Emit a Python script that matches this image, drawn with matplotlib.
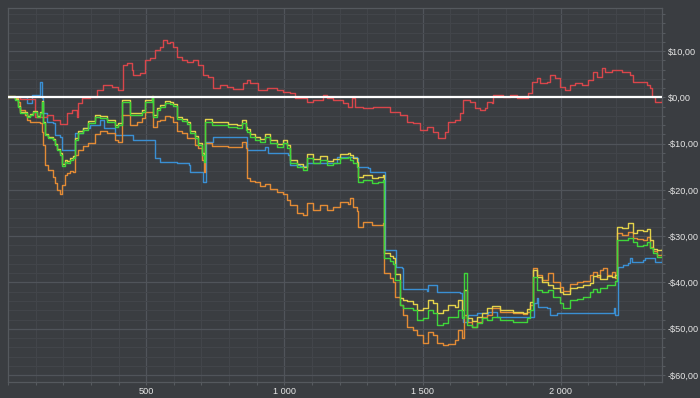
import matplotlib
matplotlib.use("Agg")
import matplotlib.pyplot as plt
from matplotlib.ticker import MultipleLocator, FixedLocator, FuncFormatter

# ---- data ----
red_x = [0, 44, 98, 142, 163, 189, 214, 232, 250, 254, 268, 297, 323, 344, 377, 399, 417, 431, 449, 453,
         478, 496, 514, 532, 550, 562, 576, 587, 597, 612, 630, 648, 670, 688, 706, 724, 742, 768, 793, 815,
         851, 865, 876, 905, 937, 974, 995, 1021, 1039, 1082, 1104, 1140, 1155, 1176, 1212, 1230, 1245, 1256,
         1285, 1321, 1353, 1382, 1418, 1444, 1466, 1491, 1516, 1538, 1556, 1581, 1592, 1617, 1636, 1646, 1654,
         1672, 1690, 1708, 1726, 1733, 1751, 1755, 1791, 1816, 1842, 1871, 1882, 1896, 1914, 1925, 1950, 1961,
         1979, 1997, 2015, 2033, 2052, 2077, 2099, 2117, 2131, 2149, 2160, 2185, 2221, 2250, 2261, 2294, 2312,
         2323, 2330, 2341, 2352, 2366]
red_y = [0, -0.4, -4.3, -3.8, -4.9, -5.8, -3.4, -2.7, -4.3, -1.2, -0.2, 0.1, 1.6, 2.7, 2.2, 1.6, 7.0, 7.4, 5.9, 4.8,
         5.2, 8.1, 8.5, 10.2, 10.9, 12.4, 11.7, 11.9, 10.9, 8.7, 8.1, 7.6, 8.1, 7.0, 4.8, 4.4, 2.0, 2.7, 2.2, 1.8,
         3.1, 3.7, 3.1, 1.6, 2.0, 1.6, 1.1, 0.9, -0.2, -1.0, -0.6, 0.5, -0.2, -0.6, -1.2, -2.1, -0.2, -2.1,
         -2.3, -2.1, -2.1, -3.2, -3.8, -5.3, -5.6, -7.1, -6.4, -7.5, -8.8, -7.5, -5.3, -4.9, -3.4, -0.6, -0.6,
         -1.0, -2.3, -2.7, -2.3, -1.0, -1.2, 0.5, 0.1, 0.5, -0.2, -0.2, 0.9, 3.3, 4.2, 3.1, 3.3, 4.8,
         4.2, 2.2, 1.6, 2.7, 3.1, 2.7, 3.7, 5.5, 4.4, 6.3, 5.5, 5.9, 5.5, 4.8, 3.3, 3.3, 2.7,
         2.0, 0.1, -1.0, -1.0, -0.6]

blue_x = [0, 69, 69, 88, 88, 109, 116, 124, 127, 142, 163, 171, 189, 196, 236, 243, 272, 297, 333, 348,
          381, 388, 449, 453, 525, 532, 550, 605, 612, 655, 659, 702, 706, 713, 717, 742, 865, 865, 923, 930,
          941, 1013, 1021, 1057, 1082, 1176, 1191, 1245, 1263, 1267, 1303, 1310, 1361, 1364, 1400, 1404, 1426,
          1429, 1480, 1516, 1520, 1545, 1552, 1636, 1643, 1646, 1661, 1665, 1697, 1733, 1737, 1755, 1769, 1889,
          1903, 1914, 1918, 1950, 1961, 1986, 2189, 2192, 2196, 2203, 2207, 2225, 2243, 2250, 2257, 2297,
          2305, 2334, 2341, 2366]
blue_y = [0, 0.1, -1.2, -1.2, 0.5, 0.5, 3.3, -0.2, -3.4, -5.3, -5.6, -8.1, -8.6, -11.4, -11.4, -7.6, -6.6, -6.0, -4.9, -6.6,
          -6.6, -8.1, -8.1, -9.2, -9.2, -13.1, -14.0, -14.0, -14.2, -14.6, -16.1, -16.1, -18.3, -18.3, -9.7, -8.6, -8.6, -11.4, -11.4, -10.7,
          -12.0, -12.5, -14.6, -14.8, -14.2, -14.2, -12.9, -12.9, -13.1, -15.1, -15.3, -16.1, -16.1, -33.0, -33.0, -36.7, -36.9,
          -41.3, -41.4, -41.8, -40.5, -40.5, -42.0, -42.2, -47.4, -48.5, -48.5, -47.0, -46.6, -47.0, -46.4, -46.4, -47.4, -47.4,
          -44.4, -43.3, -45.3, -45.5, -47.0, -46.6, -46.6, -45.5, -47.0, -47.0, -36.7, -36.2, -35.8, -34.7, -35.6, -35.2,
          -34.7, -34.7, -35.6, -35.2]

# shared sampling positions for the green, yellow and orange runs
gyo_x = [0, 26, 37, 44, 62, 69, 80, 91, 106, 116, 124, 127, 135, 145, 163, 171, 178, 189, 196, 207,
         214, 225, 236, 243, 254, 272, 290, 315, 333, 358, 387, 399, 413, 435, 442, 467, 485, 496, 522, 525,
         540, 550, 569, 587, 597, 612, 630, 648, 659, 677, 688, 702, 710, 713, 739, 775, 797, 829, 847, 862,
         865, 876, 894, 912, 930, 948, 974, 995, 1010, 1021, 1046, 1068, 1082, 1104, 1129, 1155, 1176, 1201, 1230, 1238,
         1248, 1263, 1267, 1285, 1317, 1339, 1357, 1361, 1383, 1393, 1400, 1418, 1429, 1444, 1466, 1480, 1502, 1520, 1538, 1552,
         1574, 1592, 1617, 1628, 1643, 1650, 1661, 1679, 1697, 1715, 1733, 1751, 1780, 1827, 1863, 1878, 1889, 1900, 1914, 1932,
         1954, 1972, 1997, 2008, 2033, 2059, 2081, 2106, 2117, 2131, 2142, 2153, 2167, 2185, 2196, 2203, 2221, 2243, 2261, 2275,
         2297, 2312, 2323, 2334, 2348, 2366]
green_y = [0.1, -0.6, -2.1, -3.4, -3.4, -4.3, -3.8, -3.2, -4.3, -3.4, -1.0, -5.6, -8.1, -8.8, -9.2, -10.3, -11.4, -12.5, -14.8, -14.0,
           -14.2, -13.5, -13.1, -9.2, -7.7, -7.1, -5.6, -4.3, -4.5, -5.3, -6.4, -6.0, -1.0, -1.0, -3.8, -3.8, -3.2, -1.0, -0.2, -4.3,
           -2.7, -2.1, -1.2, -1.4, -1.9, -4.7, -5.1, -5.8, -7.7, -8.8, -10.3, -12.5, -14.0, -5.3, -6.0, -6.0, -6.4, -6.6, -5.6, -7.1,
           -7.5, -8.6, -9.2, -9.7, -8.6, -9.9, -10.7, -9.9, -11.0, -14.2, -15.1, -15.7, -13.1, -14.2, -13.5, -14.6, -14.2, -13.1, -12.9, -13.5,
           -14.2, -15.1, -18.3, -17.9, -18.5, -18.3, -17.9, -34.7, -35.4, -36.0, -39.5, -44.9, -45.5, -45.5, -45.9, -48.1, -47.7, -45.9, -46.6, -49.2,
           -48.8, -47.5, -47.5, -45.9, -47.7, -38.0, -49.2, -49.6, -48.8, -47.7, -48.1, -47.5, -48.1, -48.5, -48.5, -47.7, -45.9, -38.8, -41.6, -42.1,
           -41.6, -43.1, -44.4, -45.5, -43.8, -43.6, -43.1, -42.1, -41.4, -42.1, -41.2, -41.2, -40.5, -40.5, -39.7, -30.8, -30.8, -30.4, -31.3, -32.1,
           -31.9, -31.3, -32.6, -33.6, -34.5, -33.8]
yellow_y = [0.3, -0.4, -1.9, -3.2, -3.2, -4.0, -3.6, -3.0, -4.0, -3.2, -0.8, -5.3, -7.9, -8.6, -9.0, -10.1, -11.2, -12.0, -14.4, -13.5,
            -13.8, -13.1, -12.7, -8.8, -7.3, -6.6, -5.1, -3.8, -4.0, -4.9, -6.0, -5.6, -0.6, -0.6, -3.4, -3.4, -2.7, -0.6, 0.3, -3.8,
            -2.3, -1.7, -0.8, -1.0, -1.4, -4.3, -4.7, -5.3, -7.3, -8.4, -9.9, -12.0, -13.5, -4.7, -5.3, -5.3, -5.8, -6.0, -4.9, -6.4,
            -6.9, -7.9, -8.6, -9.0, -7.9, -9.2, -10.1, -9.2, -10.3, -13.5, -14.4, -15.1, -12.2, -13.3, -12.7, -13.8, -13.3, -12.2, -12.0, -12.5,
            -13.1, -14.0, -17.2, -16.8, -17.4, -17.2, -16.8, -33.6, -34.3, -34.7, -38.2, -43.4, -43.8, -44.0, -44.6, -45.9, -45.5, -43.8, -44.4, -46.6,
            -45.9, -44.9, -45.3, -43.8, -45.9, -41.6, -47.7, -48.3, -47.5, -46.6, -45.5, -45.1, -45.9, -46.4, -46.6, -45.7, -44.2, -37.3, -38.8, -39.9,
            -40.5, -41.2, -42.1, -42.5, -41.2, -41.0, -40.5, -40.1, -38.6, -38.4, -39.2, -39.2, -38.6, -38.8, -38.4, -28.0, -28.2, -27.2, -29.3, -28.7,
            -28.9, -28.5, -30.8, -32.8, -33.0, -32.8]
orange_y = [0.1, -0.2, -1.0, -2.7, -3.8, -4.9, -5.3, -5.3, -5.3, -5.6, -7.5, -10.3, -14.6, -15.7, -17.2, -18.5, -20.0, -20.9, -18.9, -16.8,
            -16.4, -15.9, -16.1, -12.5, -11.4, -10.5, -9.9, -7.9, -7.3, -7.7, -9.2, -9.7, -3.8, -3.8, -6.0, -5.3, -4.5, -3.2, -3.2, -6.4,
            -5.1, -4.9, -4.0, -4.3, -5.3, -7.3, -7.7, -8.8, -8.8, -10.3, -11.0, -13.5, -16.1, -9.9, -10.5, -10.5, -10.7, -10.7, -9.7, -11.0,
            -17.4, -18.1, -18.3, -19.2, -18.7, -19.8, -20.5, -20.9, -22.2, -23.3, -25.0, -25.4, -22.8, -24.3, -23.3, -24.3, -23.7, -22.6, -23.0, -21.8,
            -23.7, -24.6, -28.0, -26.9, -27.6, -27.6, -27.2, -38.0, -39.0, -39.9, -43.1, -44.9, -47.0, -49.6, -50.3, -51.3, -53.1, -50.7, -51.3, -53.1,
            -53.5, -53.3, -52.4, -50.3, -52.0, -47.0, -48.5, -49.6, -48.5, -47.5, -47.0, -45.5, -46.4, -46.6, -46.8, -46.4, -44.9, -36.9, -38.4, -39.5,
            -38.0, -39.9, -41.0, -41.8, -40.3, -39.9, -39.7, -38.4, -37.7, -38.8, -37.3, -36.9, -38.4, -37.7, -39.0, -29.3, -29.7, -29.1, -30.4, -30.6,
            -30.8, -30.2, -32.3, -33.2, -34.1, -33.4]

y_major = [-60, -50, -40, -30, -20, -10, 0, 10]
x_major = [500, 1000, 1500, 2000]

bg = '#3a3d41'
plt.rcParams['font.family'] = ['Liberation Sans', 'DejaVu Sans']

fig = plt.figure(figsize=(7, 3.98), dpi=100, facecolor=bg)
ax = fig.add_axes([0.0114, 0.0402, 0.9343, 0.9397], facecolor=bg)

lw = 1.0
ax.plot(blue_x, blue_y, color='#3a8fd3', lw=lw, drawstyle='steps-post', zorder=3)
ax.plot(gyo_x, orange_y, color='#e38b35', lw=lw, drawstyle='steps-post', zorder=4)
ax.plot(gyo_x, yellow_y, color='#e3d24a', lw=lw, drawstyle='steps-post', zorder=5)
ax.plot(gyo_x, green_y, color='#3fd63a', lw=lw, drawstyle='steps-post', zorder=6)
ax.plot(red_x, red_y, color='#d9464b', lw=lw, drawstyle='steps-post', zorder=3)
ax.axhline(0, color='white', lw=1.6, zorder=8)

ax.set_xlim(0, 2366)
ax.set_ylim(-61.5, 19.3)

ax.xaxis.set_major_locator(FixedLocator(x_major))
ax.xaxis.set_minor_locator(MultipleLocator(100))
ax.yaxis.set_major_locator(FixedLocator(y_major))
ax.yaxis.set_minor_locator(MultipleLocator(2))

ax.xaxis.set_major_formatter(FuncFormatter(lambda v, p: f"{int(v):,}".replace(',', ' ')))
def money(v, p):
    s = f"${abs(v):.2f}".replace('.', ',')
    return '-' + s if v < 0 else s
ax.yaxis.set_major_formatter(FuncFormatter(money))

ax.yaxis.tick_right()
ax.grid(which='major', color='#50545a', lw=0.9)
ax.grid(which='minor', color='#43464b', lw=0.7)
ax.set_axisbelow(True)

ax.tick_params(which='both', colors='#575b60', labelcolor='#e6e6e6', labelsize=6.6, length=2, width=0.8)
ax.tick_params(axis='y', which='both', pad=2)
ax.tick_params(axis='x', which='both', pad=1.5)
for s in ax.spines.values():
    s.set_color('#55595e')
    s.set_linewidth(0.9)

fig.savefig('out.png', dpi=100, facecolor=bg)
